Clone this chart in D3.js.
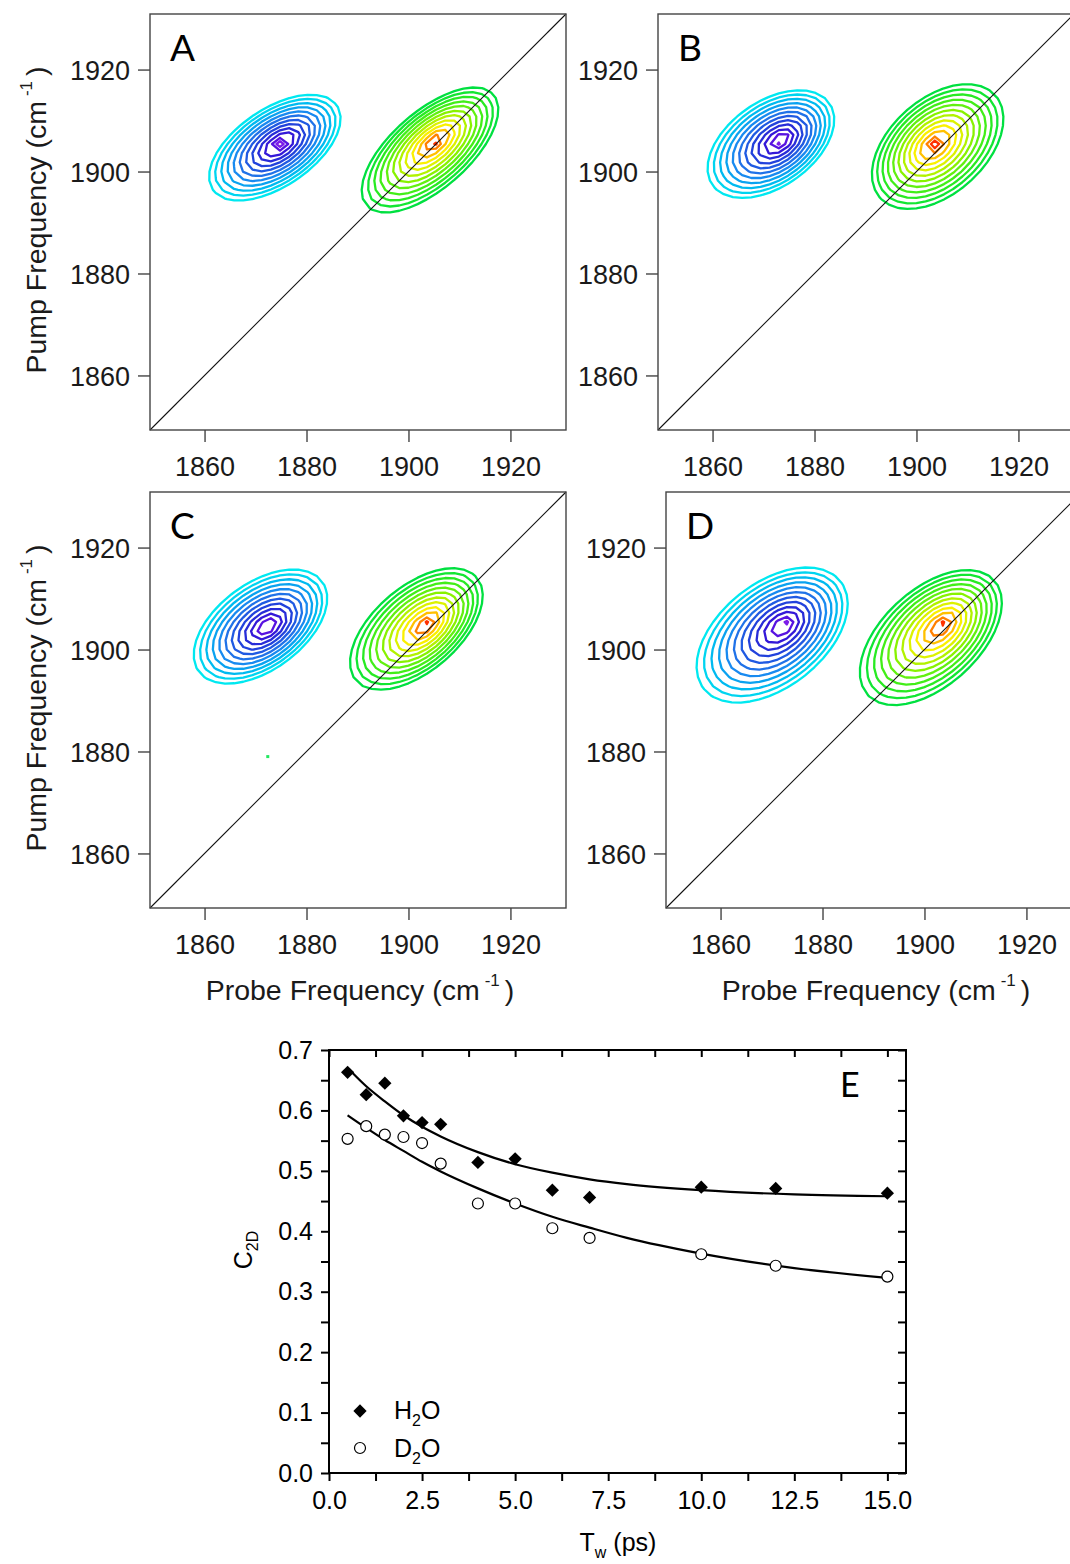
<!DOCTYPE html>
<html>
<head>
<meta charset="utf-8">
<script src="https://cdn.jsdelivr.net/npm/d3@7/dist/d3.min.js"></script>
<style>
  body { margin: 0; background: #fff; }
  svg { display: block; font-family: "Liberation Sans", Arial, sans-serif; }
</style>
</head>
<body>
<svg id="fig" width="1070" height="1564"></svg>
<script>
// ---- 2D IR panels (A-D) ----
var panelNames = ["A", "B", "C", "D"];
var freqTicks = [1860, 1880, 1900, 1920];
var freqDomain = [1849.3, 1930.9];

// bleach (blue) peak
var negTopProbe = [1875.0, 1873.5, 1872.5, 1872.5];    // innermost contour
var negTopPump = [1905.5, 1906.1, 1904.5, 1904.8];
var negOuterProbe = [1873.8, 1871.5, 1871.0, 1870.2];  // centre of outermost contour
var negOuterPump = [1904.7, 1905.4, 1904.5, 1902.9];
var negHalfProbe = [12.8, 12.1, 12.9, 14.4];           // half extent of outermost contour
var negHalfPump = [10.3, 10.4, 11.1, 12.9];
var negTilt = [0.55, 0.45, 0.5, 0.45];

// red/green peak
var posTopProbe = [1905.2, 1903.5, 1903.6, 1903.6];
var posTopPump = [1905.9, 1905.3, 1904.8, 1904.8];
var posOuterProbe = [1904.25, 1904.15, 1901.6, 1901.35];
var posOuterPump = [1904.25, 1904.9, 1904.05, 1902.45];
var posHalfProbe = [13.25, 12.85, 12.7, 13.45];
var posHalfPump = [12.05, 12.2, 11.75, 12.75];
var posTilt = [0.65, 0.45, 0.55, 0.5];

var contourLevels = [0.06, 0.14, 0.22, 0.30, 0.38, 0.46, 0.54, 0.62, 0.70, 0.78, 0.86, 0.93];

// stray single pixel seen in panel C
var speckPanel = [2];
var speckProbe = [1872.4];
var speckPump = [1879];

// ---- panel E ----
var twValues = [0.5, 1, 1.5, 2, 2.5, 3, 4, 5, 6, 7, 10, 12, 15];
var c2dH2O = [0.663, 0.626, 0.645, 0.591, 0.580, 0.577, 0.514, 0.520, 0.468, 0.456, 0.473, 0.471, 0.463];
var c2dD2O = [0.553, 0.574, 0.560, 0.556, 0.546, 0.512, 0.446, 0.446, 0.405, 0.389, 0.362, 0.343, 0.325];

var fitTwH2O = [0.6, 1, 1.5, 2, 2.5, 3, 4, 5, 6, 7, 8, 10, 12.5, 15];
var fitH2O = [0.664, 0.640, 0.615, 0.592, 0.573, 0.557, 0.531, 0.511, 0.497, 0.486, 0.478, 0.468, 0.461, 0.458];
var fitTwD2O = [0.5, 1, 1.5, 2, 2.5, 3, 4, 5, 6, 7, 8, 10, 12.5, 15];
var fitD2O = [0.592, 0.571, 0.551, 0.533, 0.515, 0.499, 0.471, 0.446, 0.424, 0.406, 0.389, 0.363, 0.339, 0.323];

var twTicks = [0, 2.5, 5, 7.5, 10, 12.5, 15];
var c2dTicks = [0, 0.1, 0.2, 0.3, 0.4, 0.5, 0.6, 0.7];

// layout
var boxSize = 416;
var panelLeft = [150, 658, 150, 666];
var panelTop = [14, 14, 492, 492];
var showPumpTitle = [true, false, true, false];
var showProbeTitle = [false, false, true, true];

var gridStart = 1846, gridStep = 1.8, gridCount = 50;

var negColors = ["#00e8f0", "#00d4f0", "#00baf0", "#0aa2f0", "#188af0", "#2072e8", "#205ae2", "#2242dc", "#282cd8", "#3418d8", "#5812e0", "#7c1ce8"];
var posColors = ["#00e040", "#12e632", "#28ea22", "#42ee18", "#62f010", "#88f200", "#b2f200", "#dcf200", "#faf000", "#ffc000", "#ff8000", "#ff3000"];

var svg = d3.select("#fig");
svg.append("rect").attr("width", 1070).attr("height", 1564).attr("fill", "#fff");

// cone-like peak, apex at the innermost contour, outer rings pulled toward the outer centre
function peakField(tp, tq, op, oq, wp, wq, rho) {
	var d0 = (op - tp) / wp, d1 = (oq - tq) / wq;
	var k0 = 0.94 * (d0 - rho * d1) / (1 - rho * rho);
	var k1 = 0.94 * (d1 - rho * d0) / (1 - rho * rho);
	var vals = new Array(gridCount * gridCount);
	for (var j = 0; j < gridCount; j++) {
		for (var i = 0; i < gridCount; i++) {
			var u = (gridStart + i * gridStep - tp) / wp;
			var v = (gridStart + j * gridStep - tq) / wq;
			var qf = (u * u - 2 * rho * u * v + v * v) / (1 - rho * rho);
			vals[j * gridCount + i] = 1 - 0.94 * Math.sqrt(qf) + k0 * u + k1 * v;
		}
	}
	return vals;
}

function drawPeak(g, path, vals, colors) {
	var contours = d3.contours().size([gridCount, gridCount]).thresholds(contourLevels)(vals);
	g.append("g").selectAll("path").data(contours).enter().append("path")
		.attr("d", path)
		.attr("fill", "none")
		.attr("stroke", function(d, i) { return colors[i]; })
		.attr("stroke-width", 2.3)
		.attr("stroke-linejoin", "round");
}

panelNames.forEach(function(name, i) {
	var g = svg.append("g").attr("transform", "translate(" + panelLeft[i] + "," + panelTop[i] + ")");
	var x = d3.scaleLinear().domain(freqDomain).range([0, boxSize]);
	var y = d3.scaleLinear().domain(freqDomain).range([boxSize, 0]);

	var proj = d3.geoTransform({
		point: function(gx, gy) {
			this.stream.point(x(gridStart + (gx - 0.5) * gridStep), y(gridStart + (gy - 0.5) * gridStep));
		}
	});
	var path = d3.geoPath(proj);

	drawPeak(g, path, peakField(negTopProbe[i], negTopPump[i], negOuterProbe[i], negOuterPump[i],
		negHalfProbe[i], negHalfPump[i], negTilt[i]), negColors);
	drawPeak(g, path, peakField(posTopProbe[i], posTopPump[i], posOuterProbe[i], posOuterPump[i],
		posHalfProbe[i], posHalfPump[i], posTilt[i]), posColors);

	speckPanel.forEach(function(p, k) {
		if (p !== i) return;
		g.append("rect")
			.attr("x", x(speckProbe[k]) - 1.5).attr("y", y(speckPump[k]) - 1.5)
			.attr("width", 3).attr("height", 3).attr("fill", "#22e860");
	});

	// diagonal
	g.append("line")
		.attr("x1", x(freqDomain[0])).attr("y1", y(freqDomain[0]))
		.attr("x2", x(freqDomain[1])).attr("y2", y(freqDomain[1]))
		.attr("stroke", "#111").attr("stroke-width", 1.1);

	g.append("rect").attr("width", boxSize).attr("height", boxSize)
		.attr("fill", "none").attr("stroke", "#444").attr("stroke-width", 1.4);

	var xAxis = d3.axisBottom(x).tickValues(freqTicks).tickFormat(d3.format("d")).tickSize(12).tickSizeOuter(0).tickPadding(15);
	var yAxis = d3.axisLeft(y).tickValues(freqTicks).tickFormat(d3.format("d")).tickSize(12).tickSizeOuter(0).tickPadding(8);
	var xg = g.append("g").attr("transform", "translate(0," + boxSize + ")").call(xAxis);
	var yg = g.append("g").call(yAxis);
	[xg, yg].forEach(function(a) {
		a.select(".domain").remove();
		a.selectAll("line").attr("stroke", "#444").attr("stroke-width", 1.4);
		a.selectAll("text").attr("font-size", 27).attr("fill", "#1a1a1a")
			.attr("font-family", "'Liberation Sans', Arial, sans-serif");
	});
	yg.selectAll("text").attr("dy", "0.36em");

	g.append("text").attr("x", 20).attr("y", 47)
		.attr("font-family", "Lato, 'Open Sans', sans-serif").attr("font-size", 37)
		.attr("fill", "#000").text(name);

	if (showPumpTitle[i]) {
		var pt = g.append("text")
			.attr("transform", "translate(" + (46 - panelLeft[i]) + "," + (boxSize / 2 - 2) + ") rotate(-90)")
			.attr("text-anchor", "middle").attr("font-size", 28.5).attr("fill", "#1a1a1a");
		pt.append("tspan").text("Pump Frequency (cm");
		pt.append("tspan").attr("font-size", 17).attr("dx", 5).attr("dy", -14).text("-1");
		pt.append("tspan").attr("dx", 5).attr("dy", 14).text(")");
	}
	if (showProbeTitle[i]) {
		var bt = g.append("text")
			.attr("x", boxSize / 2 + 2).attr("y", boxSize + 92)
			.attr("text-anchor", "middle").attr("font-size", 28.5).attr("fill", "#1a1a1a");
		bt.append("tspan").text("Probe Frequency (cm");
		bt.append("tspan").attr("font-size", 17).attr("dx", 5).attr("dy", -14).text("-1");
		bt.append("tspan").attr("dx", 5).attr("dy", 14).text(")");
	}
});

// ---- panel E ----
var ex = d3.scaleLinear().domain([0, 15.5]).range([329, 906]);
var ey = d3.scaleLinear().domain([0, 0.7]).range([1473, 1050]);

var twMinor = twTicks.slice(0, -1).map(function(t) { return t + 1.25; });
var c2dMinor = c2dTicks.slice(0, -1).map(function(c) { return c + 0.05; });
var twAll = twTicks.concat(twMinor);
var c2dAll = c2dTicks.concat(c2dMinor);

var eg = svg.append("g");

function styleAxis(a) {
	a.select(".domain").remove();
	a.selectAll("line").attr("stroke", "#000").attr("stroke-width", 2);
	a.selectAll("text").attr("font-size", 25).attr("fill", "#000")
		.attr("font-family", "'Liberation Sans', Arial, sans-serif");
}

styleAxis(eg.append("g").attr("transform", "translate(0,1473)")
	.call(d3.axisBottom(ex).tickValues(twTicks).tickFormat(d3.format(".1f")).tickSize(8).tickPadding(10)));
styleAxis(eg.append("g").attr("transform", "translate(0,1473)")
	.call(d3.axisBottom(ex).tickValues(twMinor).tickFormat("").tickSize(8)));
styleAxis(eg.append("g").attr("transform", "translate(0,1050)")
	.call(d3.axisBottom(ex).tickValues(twAll).tickFormat("").tickSize(7)));
styleAxis(eg.append("g").attr("transform", "translate(329,0)")
	.call(d3.axisLeft(ey).tickValues(c2dTicks).tickFormat(d3.format(".1f")).tickSize(8).tickPadding(8)));
styleAxis(eg.append("g").attr("transform", "translate(329,0)")
	.call(d3.axisLeft(ey).tickValues(c2dMinor).tickFormat("").tickSize(8)));
styleAxis(eg.append("g").attr("transform", "translate(906,0)")
	.call(d3.axisLeft(ey).tickValues(c2dAll).tickFormat("").tickSize(8)));

eg.append("rect").attr("x", 329).attr("y", 1050).attr("width", 577).attr("height", 423)
	.attr("fill", "none").attr("stroke", "#000").attr("stroke-width", 2);

var fitLine = d3.line()
	.x(function(d) { return ex(d[0]); })
	.y(function(d) { return ey(d[1]); })
	.curve(d3.curveMonotoneX);

eg.append("path").datum(d3.zip(fitTwH2O, fitH2O)).attr("d", fitLine)
	.attr("fill", "none").attr("stroke", "#000").attr("stroke-width", 2.2);
eg.append("path").datum(d3.zip(fitTwD2O, fitD2O)).attr("d", fitLine)
	.attr("fill", "none").attr("stroke", "#000").attr("stroke-width", 2.2);

var diamond = d3.symbol().type(d3.symbolSquare).size(88);

eg.append("g").selectAll("circle").data(d3.zip(twValues, c2dD2O)).enter().append("circle")
	.attr("cx", function(d) { return ex(d[0]); })
	.attr("cy", function(d) { return ey(d[1]); })
	.attr("r", 5.5).attr("fill", "#fff").attr("stroke", "#000").attr("stroke-width", 1.2);

eg.append("g").selectAll("path").data(d3.zip(twValues, c2dH2O)).enter().append("path")
	.attr("d", diamond)
	.attr("transform", function(d) { return "translate(" + ex(d[0]) + "," + ey(d[1]) + ") rotate(45)"; })
	.attr("fill", "#000");

// legend
eg.append("path").attr("d", diamond).attr("transform", "translate(360,1411) rotate(45)").attr("fill", "#000");
eg.append("circle").attr("cx", 360).attr("cy", 1448).attr("r", 5.5)
	.attr("fill", "#fff").attr("stroke", "#000").attr("stroke-width", 1.2);

function chemLabel(xp, yp, first) {
	var t = eg.append("text").attr("x", xp).attr("y", yp).attr("font-size", 25).attr("fill", "#000");
	t.append("tspan").text(first);
	t.append("tspan").attr("font-size", 16).attr("dy", 7).text("2");
	t.append("tspan").attr("dy", -7).text("O");
}
chemLabel(394, 1419, "H");
chemLabel(394, 1457, "D");

eg.append("text").attr("x", 840).attr("y", 1097)
	.attr("font-family", "Lato, 'Open Sans', sans-serif").attr("font-size", 34).attr("fill", "#000").text("E");

var yt = eg.append("text").attr("transform", "translate(252,1250) rotate(-90)")
	.attr("text-anchor", "middle").attr("font-size", 25).attr("fill", "#000");
yt.append("tspan").text("C");
yt.append("tspan").attr("font-size", 16).attr("dy", 6).text("2D");

var xt = eg.append("text").attr("x", 618).attr("y", 1551)
	.attr("text-anchor", "middle").attr("font-size", 25).attr("fill", "#000");
xt.append("tspan").text("T");
xt.append("tspan").attr("font-size", 16).attr("dy", 7).text("w");
xt.append("tspan").attr("dy", -7).text(" (ps)");
</script>
</body>
</html>
